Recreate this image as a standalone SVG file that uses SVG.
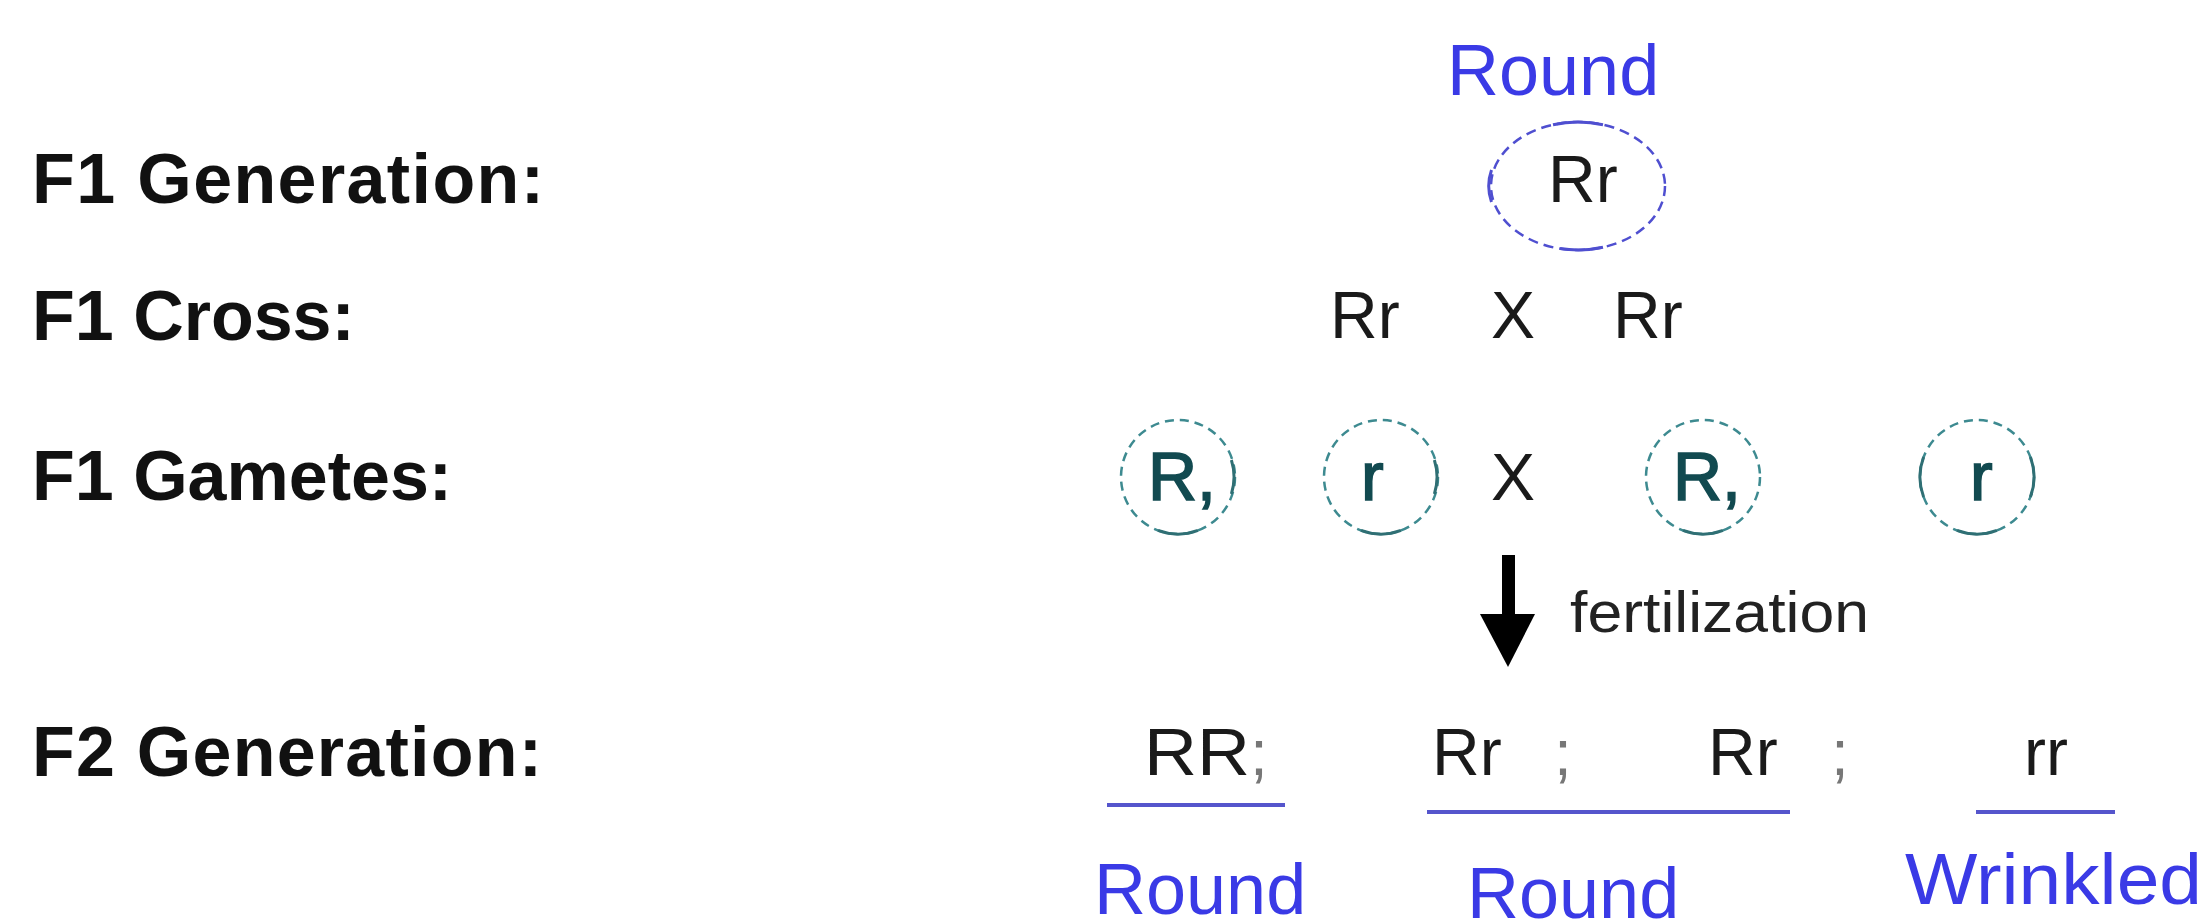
<svg xmlns="http://www.w3.org/2000/svg" width="2209" height="922" viewBox="0 0 2209 922">
<style>
.lbl{font-family:"Liberation Sans",Arial,sans-serif;font-weight:bold;font-size:70px;fill:#111}
.geno{font-family:"Liberation Sans",Arial,sans-serif;font-size:66px;fill:#1a1a1a}
.pheno{font-family:"Liberation Sans",Arial,sans-serif;font-size:72px;fill:#3a3ae6}
.gam{font-family:"Liberation Sans",Arial,sans-serif;font-size:68px;fill:#124a50;stroke:#124a50;stroke-width:1.6}
.semi{font-family:"Liberation Sans",Arial,sans-serif;font-size:64px;fill:#777}
.fert{font-family:"Liberation Sans",Arial,sans-serif;font-size:58px;fill:#222}
.gcirc{fill:none;stroke:#3d8a90;stroke-width:2.5;stroke-dasharray:9 6}
.gsolid{fill:none;stroke:#2f6f74;stroke-width:3}
.ell{fill:none;stroke:#4f4fd0;stroke-width:2.5;stroke-dasharray:10 6}
.ellsolid{fill:none;stroke:#4f4fd0;stroke-width:3}
.bar{stroke:#5555cc;stroke-width:4}
</style>

<g id="row-labels">
  <text class="lbl" x="32" y="203" textLength="512" lengthAdjust="spacing">F1 Generation:</text>
  <text class="lbl" x="32" y="340">F1 Cross:</text>
  <text class="lbl" x="32" y="500">F1 Gametes:</text>
  <text class="lbl" x="32" y="776" textLength="510" lengthAdjust="spacing">F2 Generation:</text>
</g>

<g id="f1-generation">
  <text class="pheno" x="1447" y="95">Round</text>
  <ellipse class="ell" cx="1578" cy="186" rx="87" ry="64"/>
  <path class="ellsolid" d="M1553,124.7 A87,64 0 0 1 1603,124.7"/>
  <path class="ellsolid" d="M1560,248.6 A87,64 0 0 0 1603,247.3"/>
  <path class="ellsolid" d="M1491.5,170 A87,64 0 0 0 1491.5,202"/>
  <text class="geno" x="1548" y="202">Rr</text>
</g>

<g id="f1-cross">
  <text class="geno" x="1330" y="338">Rr</text>
  <text class="geno" x="1491" y="338">X</text>
  <text class="geno" x="1613" y="338">Rr</text>
</g>

<g id="gamete-R1">
  <circle class="gcirc" cx="1178" cy="477" r="57"/>
  <path class="gsolid" d="M1158,530.4 A57,57 0 0 0 1198,530.4"/>
  <path class="gsolid" d="M1231.4,460 A57,57 0 0 1 1231.4,494"/>
  <text class="gam" x="1148" y="500">R,</text>
</g>
<g id="gamete-r1">
  <circle class="gcirc" cx="1381" cy="477" r="57"/>
  <path class="gsolid" d="M1361,530.4 A57,57 0 0 0 1401,530.4"/>
  <path class="gsolid" d="M1434.4,460 A57,57 0 0 1 1434.4,494"/>
  <text class="gam" x="1361" y="500">r</text>
</g>
<g id="gamete-cross">
  <text class="geno" x="1491" y="500">X</text>
</g>
<g id="gamete-R2">
  <circle class="gcirc" cx="1703" cy="477" r="57"/>
  <path class="gsolid" d="M1683,530.4 A57,57 0 0 0 1723,530.4"/>
  <text class="gam" x="1673" y="500">R,</text>
</g>
<g id="gamete-r2">
  <circle class="gcirc" cx="1977" cy="477" r="57"/>
  <path class="gsolid" d="M1957,530.4 A57,57 0 0 0 1997,530.4"/>
  <path class="gsolid" d="M1923.6,497 A57,57 0 0 1 1923.6,457"/>
  <path class="gsolid" d="M2030.4,457 A57,57 0 0 1 2030.4,497"/>
  <text class="gam" x="1970" y="500">r</text>
</g>

<g id="connectors">
  <rect x="1502" y="555" width="13" height="64" fill="#000"/>
  <polygon points="1480,614 1535,614 1508,667" fill="#000"/>
  <text class="fert" x="1570" y="632" textLength="299" lengthAdjust="spacingAndGlyphs">fertilization</text>
</g>

<g id="f2-RR">
  <text class="geno" x="1144" y="775" font-size="68" textLength="106" lengthAdjust="spacingAndGlyphs">RR</text>
  <text class="semi" x="1250" y="775">;</text>
  <line class="bar" x1="1107" y1="805" x2="1285" y2="805"/>
  <text class="pheno" x="1094" y="914">Round</text>
</g>
<g id="f2-Rr">
  <text class="geno" x="1432" y="775" font-size="68">Rr</text>
  <text class="semi" x="1554" y="775">;</text>
  <text class="geno" x="1708" y="775" font-size="68">Rr</text>
  <text class="semi" x="1831" y="775">;</text>
  <line class="bar" x1="1427" y1="812" x2="1790" y2="812"/>
  <text class="pheno" x="1467" y="918">Round</text>
</g>
<g id="f2-rr">
  <text class="geno" x="2024" y="775" font-size="68">rr</text>
  <line class="bar" x1="1976" y1="812" x2="2115" y2="812"/>
  <text class="pheno" x="1905" y="904" font-size="75" textLength="297" lengthAdjust="spacingAndGlyphs">Wrinkled</text>
</g>
</svg>
